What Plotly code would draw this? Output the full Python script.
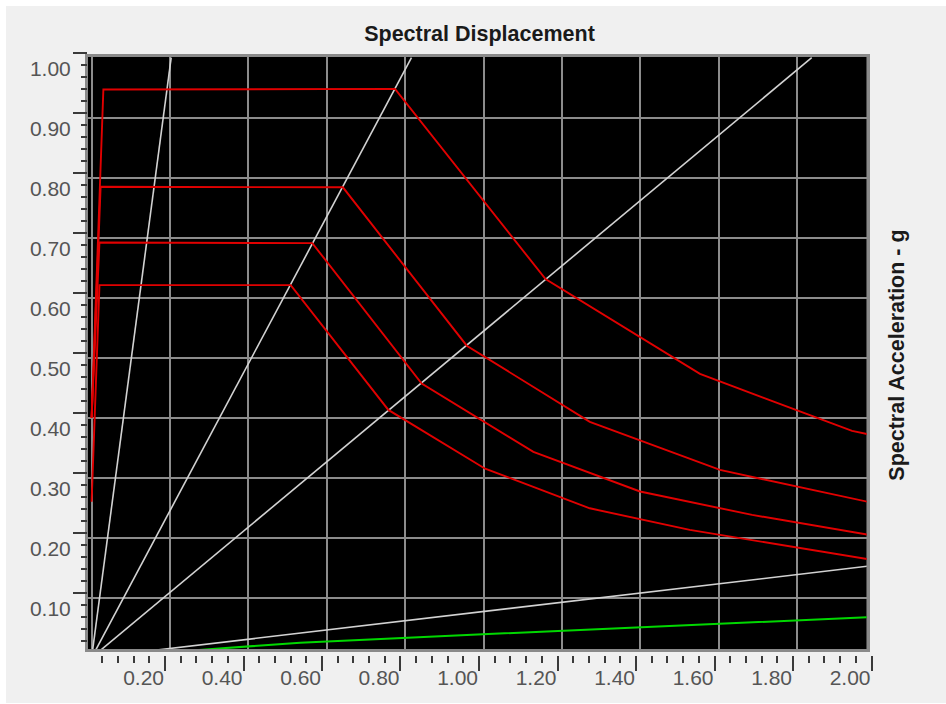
import plotly.graph_objects as go

# ---------------- data ----------------
# demand spectra (Spectral Displacement vs Spectral Acceleration - g)
curve1_sd = [0.0, 0.030, 0.774, 1.158, 1.552, 1.940, 2.0]
curve1_sa = [0.40, 0.947, 0.948, 0.631, 0.473, 0.378, 0.370]

curve2_sd = [0.0, 0.023, 0.641, 0.957, 1.271, 1.603, 2.0]
curve2_sa = [0.40, 0.785, 0.784, 0.520, 0.393, 0.313, 0.257]

curve3_sd = [0.0, 0.020, 0.563, 0.842, 1.127, 1.399, 1.685, 2.0]
curve3_sa = [0.40, 0.692, 0.691, 0.457, 0.343, 0.277, 0.238, 0.203]

curve4_sd = [0.0, 0.020, 0.508, 0.757, 1.004, 1.271, 1.526, 2.0]
curve4_sa = [0.26, 0.621, 0.621, 0.413, 0.315, 0.249, 0.213, 0.162]

# constant-period radial lines: each from origin to an end point
period_end_sd = [0.203, 0.816, 1.837, 2.0]
period_end_sa = [1.0, 1.0, 1.0, 0.154]

# capacity curve (green)
capacity_sd = [0.0, 0.532, 0.998, 1.601, 2.0]
capacity_sa = [0.0, 0.025, 0.039, 0.056, 0.068]

x_range = [-0.0092, 1.9773]
y_range = [0.0145, 1.0012]

title_text = "Spectral Displacement"
ytitle_text = "Spectral Acceleration - g"

# ---------------- figure ----------------
W, H = 946, 704
ML, MR, MT, MB = 80, 60, 50, 49
PW, PH = W - ML - MR, H - MT - MB


def px_x(p):
    return (p - ML) / PW


def px_y(p):
    return (H - MB - p) / PH


FONT = "Liberation Sans, Arial, sans-serif"
RED = "rgb(225,0,0)"

fig = go.Figure()

for sd_end, sa_end in zip(period_end_sd, period_end_sa):
    fig.add_trace(go.Scatter(x=[0.0, sd_end], y=[0.0, sa_end], mode="lines",
                             line=dict(color="#d2d2d2", width=1.6),
                             showlegend=False, hoverinfo="skip"))

for sd, sa in [(curve1_sd, curve1_sa), (curve2_sd, curve2_sa),
               (curve3_sd, curve3_sa), (curve4_sd, curve4_sa)]:
    fig.add_trace(go.Scatter(x=sd, y=sa, mode="lines",
                             line=dict(color=RED, width=1.9),
                             showlegend=False, hoverinfo="skip"))

fig.add_trace(go.Scatter(x=capacity_sd, y=capacity_sa, mode="lines",
                         line=dict(color="rgb(0,215,0)", width=2),
                         showlegend=False, hoverinfo="skip"))

# dummy trace for the tick-carrying axes
fig.add_trace(go.Scatter(x=[], y=[], xaxis="x2", yaxis="y2",
                         showlegend=False, hoverinfo="skip"))

grid_col = "#8c8c8c"
frame_col = "#8a8a8a"
tick_col = "#3a3a3a"
label_font = dict(family=FONT, size=21, color="#555555")

fig.update_layout(
    width=W, height=H,
    margin=dict(l=ML, r=MR, t=MT, b=MB),
    paper_bgcolor="white",
    plot_bgcolor="rgba(0,0,0,0)",
    showlegend=False,
    title=dict(text="<b>" + title_text + "</b>", xref="container", yref="container",
               x=479.5 / W, y=1 - 33 / H, xanchor="center", yanchor="middle",
               font=dict(family=FONT, size=21.5, color="#1a1a1a")),
    xaxis=dict(domain=[px_x(88), px_x(866.7)], range=x_range,
               showgrid=True, gridcolor=grid_col, gridwidth=1.5,
               tick0=0, dtick=0.2, ticks="", showticklabels=False,
               zeroline=False, showline=True, mirror=True,
               linecolor=frame_col, linewidth=3, fixedrange=True),
    yaxis=dict(domain=[px_y(649), px_y(57)], range=y_range,
               showgrid=True, gridcolor=grid_col, gridwidth=1.5,
               tick0=0, dtick=0.1, ticks="", showticklabels=False,
               zeroline=False, showline=True, mirror=True,
               linecolor=frame_col, linewidth=3, fixedrange=True),
    xaxis2=dict(domain=[px_x(86.5 + 0.002 * 392.5), px_x(871.5)], range=[0.002, 2.0],
                anchor="free", position=0,
                showgrid=False, zeroline=False, showline=False,
                tick0=0, dtick=0.2, tickformat=".2f",
                ticks="outside", ticklen=15, tickwidth=2, tickcolor=tick_col,
                ticklabelposition="outside left", ticklabelstandoff=4,
                minor=dict(tick0=0, dtick=0.04, ticks="outside", ticklen=7,
                           tickwidth=2, tickcolor=tick_col, showgrid=False),
                tickfont=label_font, fixedrange=True),
    yaxis2=dict(domain=[px_y(653 - 0.002 * 600), px_y(53)], range=[0.002, 1.0],
                anchor="free", position=px_x(87),
                showgrid=False, zeroline=False, showline=False,
                tick0=0, dtick=0.1, tickformat=".2f",
                ticks="outside", ticklen=14, tickwidth=2, tickcolor=tick_col,
                ticklabelposition="outside bottom", ticklabelstandoff=12,
                minor=dict(tick0=0, dtick=0.02, ticks="outside", ticklen=6,
                           tickwidth=2, tickcolor=tick_col, showgrid=False),
                tickfont=label_font, fixedrange=True),
    shapes=[
        dict(type="rect", xref="paper", yref="paper",
             x0=px_x(6), x1=px_x(946), y0=px_y(703), y1=px_y(6),
             fillcolor="#f0f0f0", line=dict(width=0), layer="below"),
        dict(type="rect", xref="x domain", yref="y domain",
             x0=0, x1=1, y0=0, y1=1,
             fillcolor="black", line=dict(width=0), layer="below"),
    ],
    annotations=[
        dict(text="<b>" + ytitle_text + "</b>", xref="paper", yref="paper",
             x=px_x(896.7), y=px_y(355), textangle=-90, showarrow=False,
             xanchor="center", yanchor="middle",
             font=dict(family=FONT, size=21.5, color="#1a1a1a")),
    ],
)

fig.write_html("out.html")
